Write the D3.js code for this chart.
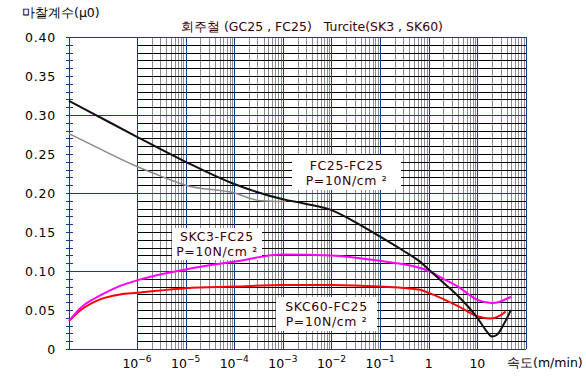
<!DOCTYPE html>
<html lang="ko">
<head>
<meta charset="utf-8"/>
<style>
body { margin: 0; background: #fff; }
svg text { font-family: "DejaVu Sans", sans-serif; }
</style>
</head>
<body>
<svg width="586" height="379"></svg>
<script src="https://d3js.org/d3.v7.min.js"></script>
<script>

// FC25-FC25 (black)
var fcSpeed = [4e-8, 1e-7, 1e-6, 1e-5, 1e-4, 1e-3, 3e-3, 1e-2, 3e-2, 1e-1, 0.3, 0.66, 1, 2, 4, 10, 15, 20, 25, 35, 49];
var fcMu    = [0.318, 0.305, 0.272, 0.240, 0.2115, 0.192, 0.186, 0.178, 0.163, 0.144, 0.126, 0.112, 0.102, 0.085, 0.068, 0.040, 0.024, 0.016, 0.018, 0.032, 0.050];

// FC25-FC25 second run (grey)
var fcgSpeed = [4e-8, 1e-7, 1e-6, 3e-6, 1e-5, 1e-4, 3.5e-4, 1.2e-3];
var fcgMu    = [0.276, 0.264, 0.234, 0.222, 0.210, 0.200, 0.190, 0.189];

// SKC3-FC25 (magenta)
var sk3Speed = [4e-8, 7e-8, 1.8e-7, 4.5e-7, 1e-6, 2e-6, 1e-5, 1e-4, 1e-3, 1e-2, 1e-1, 0.22, 1, 2, 4, 10, 20, 30, 49];
var sk3Mu    = [0.036, 0.053, 0.069, 0.081, 0.088, 0.093, 0.102, 0.112, 0.121, 0.120, 0.113, 0.110, 0.100, 0.090, 0.080, 0.063, 0.059, 0.061, 0.067];

// SKC60-FC25 (red)
var sk60Speed = [4e-8, 7e-8, 1.8e-7, 4.5e-7, 1e-6, 1e-5, 1e-4, 1e-3, 1e-2, 1e-1, 0.66, 1, 4, 10, 18, 30, 38];
var sk60Mu    = [0.036, 0.050, 0.064, 0.070, 0.072, 0.078, 0.080, 0.082, 0.082, 0.080, 0.076, 0.072, 0.055, 0.042, 0.039, 0.043, 0.048];

var yLabels = [0.40, 0.35, 0.30, 0.25, 0.20, 0.15, 0.10, 0.05, 0];
var xDecades = [1e-6, 1e-5, 1e-4, 1e-3, 1e-2, 1e-1, 1, 10, 100];
var xTickBase = ["10", "10", "10", "10", "10", "10", "1", "10"];
var xTickExp  = ["-6", "-5", "-4", "-3", "-2", "-1", "", ""];

var series = [
  {speed: fcgSpeed, mu: fcgMu, color: "#8a8a8a", width: 1.5},
  {speed: sk60Speed, mu: sk60Mu, color: "#ff0000", width: 2},
  {speed: sk3Speed, mu: sk3Mu, color: "#ff00ff", width: 2},
  {speed: fcSpeed, mu: fcMu, color: "#111111", width: 2}
];

var notes = [
  {lines: ["FC25-FC25", "P=10N/cm \u00b2"], x0: 292, y0: 155, x1: 401, y1: 190},
  {lines: ["SKC3-FC25", "P=10N/cm \u00b2"], x0: 172, y0: 228, x1: 262, y1: 260},
  {lines: ["SKC60-FC25", "P=10N/cm \u00b2"], x0: 276, y0: 297, x1: 377, y1: 331}
];

var svg = d3.select("svg");
var blue = "#0d3a9c", brown = "#3a0000";

var x = d3.scaleLog().domain([4e-8, 100]).range([69, 526]);
var y = d3.scaleLinear().domain([0, 0.4]).range([349, 37]);

var grid = svg.append("g").attr("shape-rendering", "crispEdges");

// grey minor verticals
var minors = [];
xDecades.slice(0, -1).forEach(function(d) {
  for (var k = 2; k <= 9; k++) minors.push(d * k);
});
grid.selectAll(".minor").data(minors).enter().append("line")
  .attr("x1", function(d) { return Math.round(x(d)) + 0.5; })
  .attr("x2", function(d) { return Math.round(x(d)) + 0.5; })
  .attr("y1", y(0.4)).attr("y2", y(0))
  .attr("stroke", "#8c8c8c");

// horizontal lines every 0.01
var hvals = d3.range(1, 40).map(function(i) { return i / 100; });
grid.selectAll(".h").data(hvals.filter(function(d, i) { return (i + 1) % 10 != 0; })).enter().append("line")
  .attr("x1", x(1e-6)).attr("x2", x(100))
  .attr("y1", function(d) { return Math.round(y(d)) + 0.5; })
  .attr("y2", function(d) { return Math.round(y(d)) + 0.5; })
  .attr("stroke", "#000");

// blue major horizontals
grid.selectAll(".hb").data([0.1, 0.2, 0.3, 0.4, 0]).enter().append("line")
  .attr("x1", x(4e-8)).attr("x2", x(100))
  .attr("y1", function(d) { return Math.round(y(d)) + 0.5; })
  .attr("y2", function(d) { return Math.round(y(d)) + 0.5; })
  .attr("stroke", blue);

// blue decade verticals
grid.selectAll(".vb").data(xDecades).enter().append("line")
  .attr("x1", function(d) { return Math.round(x(d)) + 0.5; })
  .attr("x2", function(d) { return Math.round(x(d)) + 0.5; })
  .attr("y1", y(0.4)).attr("y2", y(0))
  .attr("stroke", blue);

// left axis with small crossing ticks
grid.append("line")
  .attr("x1", x(4e-8) + 0.5).attr("x2", x(4e-8) + 0.5)
  .attr("y1", y(0.4)).attr("y2", y(0))
  .attr("stroke", blue);
grid.selectAll(".tk").data(d3.range(0, 41).map(function(i) { return i / 100; })).enter().append("line")
  .attr("x1", x(4e-8) - 3).attr("x2", x(4e-8) + 4)
  .attr("y1", function(d) { return Math.round(y(d)) + 0.5; })
  .attr("y2", function(d) { return Math.round(y(d)) + 0.5; })
  .attr("stroke", blue);

// note boxes
var nb = svg.append("g");
notes.forEach(function(n) {
  nb.append("rect").attr("x", n.x0).attr("y", n.y0)
    .attr("width", n.x1 - n.x0).attr("height", n.y1 - n.y0)
    .attr("fill", "#fff");
  var cx = (n.x0 + n.x1) / 2, cy = (n.y0 + n.y1) / 2;
  n.lines.forEach(function(t, i) {
    nb.append("text").attr("x", cx).attr("y", cy - 3 + i * 15)
      .attr("text-anchor", "middle").attr("font-size", 12.5)
      .attr("letter-spacing", 0.6)
      .attr("fill", brown).text(t);
  });
});

// curves
var line = d3.line()
  .x(function(d) { return x(d[0]); })
  .y(function(d) { return y(d[1]); })
  .curve(d3.curveMonotoneX);

svg.append("g").selectAll("path").data(series).enter().append("path")
  .attr("d", function(s) { return line(s.speed.map(function(v, i) { return [v, s.mu[i]]; })); })
  .attr("fill", "none")
  .attr("stroke", function(s) { return s.color; })
  .attr("stroke-width", function(s) { return s.width; });

// y tick labels
svg.append("g").selectAll("text").data(yLabels).enter().append("text")
  .attr("x", 56).attr("y", function(d) { return y(d) + 5; })
  .attr("text-anchor", "end").attr("font-size", 12.5).attr("letter-spacing", 0.8)
  .text(function(d) { return d === 0 ? "0" : d.toFixed(2); });

// x tick labels
var xl = svg.append("g").selectAll("text").data(xDecades.slice(0, -1)).enter().append("text")
  .attr("x", function(d) { return x(d); })
  .attr("y", 368)
  .attr("text-anchor", "middle").attr("font-size", 12.5);
xl.append("tspan").text(function(d, i) { return xTickBase[i]; });
xl.append("tspan").attr("dy", -6).attr("font-size", 9)
  .text(function(d, i) { return xTickExp[i] ? "\u2212" + xTickExp[i].slice(1) : ""; });

// titles
svg.append("text").attr("x", 22).attr("y", 17).attr("font-size", 12.5)
  .text("마찰계수(μ0)");
svg.append("text").attr("x", 312).attr("y", 31).attr("font-size", 12.5)
  .attr("text-anchor", "middle").attr("fill", brown)
  .text("회주철 (GC25 , FC25)\u00a0\u00a0 Turcite(SK3 , SK60)");
svg.append("text").attr("x", 507).attr("y", 367).attr("font-size", 12.5)
  .text("속도(m/min)");

</script>
</body>
</html>
